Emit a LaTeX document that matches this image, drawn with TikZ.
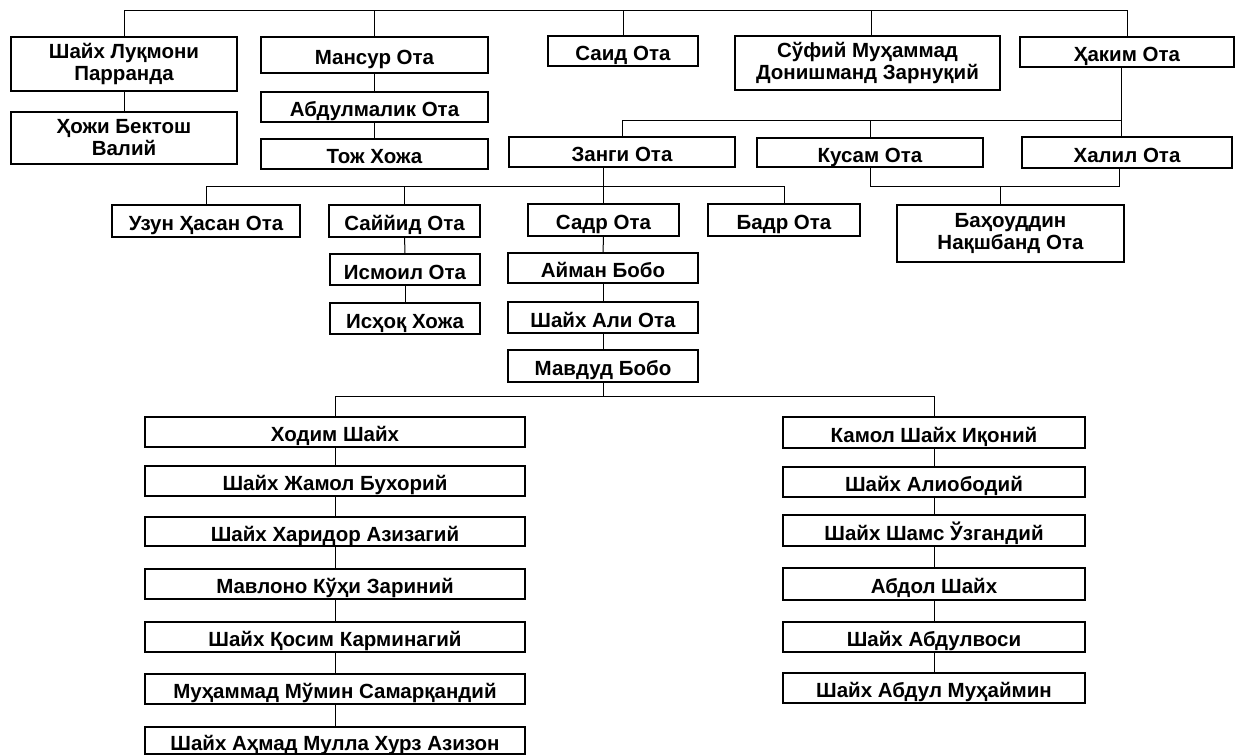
\documentclass[tikz,border=0pt]{standalone}
\usepackage{fontspec}
\setmainfont{Liberation Sans}
\begin{document}
\begin{tikzpicture}[x=1pt,y=-1pt,
  pbase/.style={draw, line width=1.3pt, inner sep=0pt, align=center,
    font=\fontsize{20.5}{22}\selectfont\bfseries},
  pbox/.style={pbase, text height=19pt, text depth=0pt},
  pboxtwo/.style={pbase},
  link/.style={line width=1pt}]
\useasboundingbox (0,0) rectangle (1244,755);
% row 1
\node[pboxtwo, minimum width=226, minimum height=54] (luq) at (124,64) {Шайх Луқмони\\Парранда};
\node[pbox, minimum width=227, minimum height=36] (mansur) at (374.5,55) {Мансур Ота};
\node[pbox, minimum width=150, minimum height=30] (said) at (623,51) {Саид Ота};
\node[pboxtwo, minimum width=265, minimum height=54] (sufiy) at (867.5,63) {Сўфий Муҳаммад\\Донишманд Зарнуқий};
\node[pbox, minimum width=214, minimum height=30] (hakim) at (1127,52) {Ҳаким Ота};
% row 2
\node[pboxtwo, minimum width=226, minimum height=52] (hoji) at (124,138) {Ҳожи Бектош\\Валий};
\node[pbox, minimum width=227, minimum height=30] (abdulmalik) at (374.5,107) {Абдулмалик Ота};
\node[pbox, minimum width=227, minimum height=30] (toj) at (374.5,154) {Тож Хожа};
\node[pbox, minimum width=226, minimum height=30] (zangi) at (622,152) {Занги Ота};
\node[pbox, minimum width=226, minimum height=29] (kusam) at (870,152.5) {Кусам Ота};
\node[pbox, minimum width=210, minimum height=31] (khalil) at (1127,152.5) {Халил Ота};
\node[pboxtwo, minimum width=227, minimum height=57] (bahouddin) at (1010.5,233.5) {Баҳоуддин\\Нақшбанд Ота};
% row 3
\node[pbox, minimum width=188, minimum height=32] (uzun) at (206,221) {Узун Ҳасан Ота};
\node[pbox, minimum width=151, minimum height=32] (sayyid) at (404.5,221) {Саййид Ота};
\node[pbox, minimum width=151, minimum height=32] (sadr) at (603.5,220) {Садр Ота};
\node[pbox, minimum width=152, minimum height=32] (badr) at (784,220) {Бадр Ота};
\node[pbox, minimum width=150, minimum height=31] (ismoil) at (405,269.5) {Исмоил Ота};
\node[pbox, minimum width=150, minimum height=31] (ishoq) at (405,318.5) {Исҳоқ Хожа};
\node[pbox, minimum width=190, minimum height=30] (ayman) at (603,268) {Айман Бобо};
\node[pbox, minimum width=190, minimum height=31] (shali) at (603,317.5) {Шайх Али Ота};
\node[pbox, minimum width=190, minimum height=32] (mavdud) at (603,366) {Мавдуд Бобо};
% left column
\node[pbox, minimum width=380, minimum height=30] (khodim) at (335,432) {Ходим Шайх};
\node[pbox, minimum width=380, minimum height=30] (jamol) at (335,481) {Шайх Жамол Бухорий};
\node[pbox, minimum width=380, minimum height=29] (kharidor) at (335,531.5) {Шайх Харидор Азизагий};
\node[pbox, minimum width=380, minimum height=30] (mavlono) at (335,584) {Мавлоно Кўҳи Зариний};
\node[pbox, minimum width=380, minimum height=30] (qosim) at (335,637) {Шайх Қосим Карминагий};
\node[pbox, minimum width=380, minimum height=30] (mumin) at (335,689) {Муҳаммад Мўмин Самарқандий};
\node[pbox, minimum width=380, minimum height=27] (ahmad) at (335,740.5) {Шайх Аҳмад Мулла Хурз Азизон};
% right column
\node[pbox, minimum width=302, minimum height=31] (kamol) at (934,432.5) {Камол Шайх Иқоний};
\node[pbox, minimum width=302, minimum height=30] (aliobod) at (934,482) {Шайх Алиободий};
\node[pbox, minimum width=302, minimum height=31] (shams) at (934,530.5) {Шайх Шамс Ўзгандий};
\node[pbox, minimum width=302, minimum height=32] (abdol) at (934,584) {Абдол Шайх};
\node[pbox, minimum width=302, minimum height=30] (abdulvosi) at (934,637) {Шайх Абдулвоси};
\node[pbox, minimum width=302, minimum height=30] (muhaymin) at (934,688) {Шайх Абдул Муҳаймин};
% junction coordinates
\coordinate (topbar) at (0,10);
\coordinate (jz) at (0,120);
\coordinate (jk) at (0,186);
\coordinate (jm) at (0,396);
% top bar
\draw[link] (luq.north) -- (luq.north |- topbar) -- (hakim.north |- topbar) -- (hakim.north);
\draw[link] (mansur.north) -- (mansur.north |- topbar);
\draw[link] (said.north) -- (said.north |- topbar);
\draw[link] ([xshift=3.5pt]sufiy.north) -- ([xshift=3.5pt]sufiy.north |- topbar);
% left chains
\draw[link] (luq) -- (hoji);
\draw[link] (mansur) -- (abdulmalik);
\draw[link] (abdulmalik) -- (toj);
% Hakim branch
\draw[link] ([xshift=-6pt]hakim.south) -- ([xshift=-6pt]khalil.north);
\draw[link] (zangi.north) -- (zangi.north |- jz) -- ([xshift=-6pt]hakim.south |- jz);
\draw[link] (kusam.north) -- (kusam.north |- jz);
\draw[link] (kusam.south) -- (kusam.south |- jk) -- ([xshift=-8pt]khalil.south |- jk) -- ([xshift=-8pt]khalil.south);
\draw[link] ([xshift=-10pt]bahouddin.north) -- ([xshift=-10pt]bahouddin.north |- jk);
% Zangi children
\draw[link] (sadr.north |- zangi.south) -- (sadr.north |- jk);
\draw[link] (uzun.north) -- (uzun.north |- jk) -- (badr.north |- jk) -- (badr.north);
\draw[link] (sayyid.north) -- (sayyid.north |- jk);
\draw[link] (sadr.north) -- (sadr.north |- jk);
\draw[link] (sayyid) -- (ismoil);
\draw[link] (ismoil) -- (ishoq);
\draw[link] (sadr) -- (ayman);
\draw[link] (ayman) -- (shali);
\draw[link] (shali) -- (mavdud);
% Mavdud children
\draw[link] (mavdud.south) -- (mavdud.south |- jm);
\draw[link] (khodim.north) -- (khodim.north |- jm) -- (kamol.north |- jm) -- (kamol.north);
\draw[link] (khodim) -- (jamol);
\draw[link] (jamol) -- (kharidor);
\draw[link] (kharidor) -- (mavlono);
\draw[link] (mavlono) -- (qosim);
\draw[link] (qosim) -- (mumin);
\draw[link] (mumin) -- (ahmad);
\draw[link] (kamol) -- (aliobod);
\draw[link] (aliobod) -- (shams);
\draw[link] (shams) -- (abdol);
\draw[link] (abdol) -- (abdulvosi);
\draw[link] (abdulvosi) -- (muhaymin);
\end{tikzpicture}
\end{document}
